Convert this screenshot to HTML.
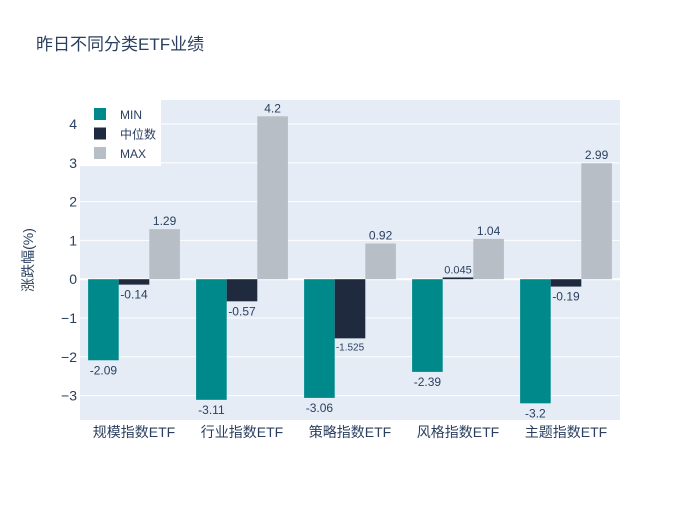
<!DOCTYPE html>
<html><head><meta charset="utf-8"><style>
body{margin:0;background:#fff;}
svg text{font-family:"Liberation Sans","Noto Sans CJK SC",sans-serif;fill:#2a3f5f;}
</style></head><body>
<svg id="c" width="700" height="500">
<rect x="0" y="0" width="700" height="500" fill="#fff"/>
<text x="36" y="50" font-size="17">昨日不同分类ETF业绩</text>
<rect x="80" y="100" width="540" height="320" fill="#e5ecf6"/>
<g id="grid"></g><g id="bars"></g><g id="axes"></g>
<text transform="translate(33,260) rotate(-90)" text-anchor="middle" font-size="14">涨跌幅(%)</text>
<g id="legend"></g>
</svg>
<script>
const categories=["规模指数ETF","行业指数ETF","策略指数ETF","风格指数ETF","主题指数ETF"];
const minVals=[-2.09,-3.11,-3.06,-2.39,-3.2];
const medVals=[-0.14,-0.57,-1.525,0.045,-0.19];
const maxVals=[1.29,4.2,0.92,1.04,2.99];
const minLabels=["-2.09","-3.11","-3.06","-2.39","-3.2"];
const medLabels=["-0.14","-0.57","-1.525","0.045","-0.19"];
const maxLabels=["1.29","4.2","0.92","1.04","2.99"];
const yTicks=[-3,-2,-1,0,1,2,3,4];
const seriesNames=["MIN","中位数","MAX"];
const colors=["#00898a","#1f2a3f","#b8bec6"];
const NS="http://www.w3.org/2000/svg";
const x0=80,x1=620,y0=100,y1=420,yMin=-3.63,yMax=4.62;
const yS=v=>y1-(v-yMin)/(yMax-yMin)*(y1-y0);
const band=(x1-x0)/categories.length;
const xC=i=>x0+band*(i+0.5);
function mk(t,a,p){const e=document.createElementNS(NS,t);for(const k in a)e.setAttribute(k,a[k]);p.appendChild(e);return e;}
const grid=document.getElementById('grid'),axes=document.getElementById('axes'),bars=document.getElementById('bars');
yTicks.forEach(v=>{
 const l=mk('line',{x1:x0,x2:x1,y1:yS(v),y2:yS(v),stroke:'#fff','stroke-width':v===0?2:1},grid);
 
 
 const t=mk('text',{x:x0-3,y:yS(v)+5,'text-anchor':'end','font-size':14},axes);
 t.textContent=v<0?'\u2212'+Math.abs(v):String(v);
 
 
});
categories.forEach((c,i)=>{
 const t=mk('text',{x:xC(i),y:437,'text-anchor':'middle','font-size':14},axes);
 t.textContent=c;
 
 
});
const series=[minVals,medVals,maxVals],labels=[minLabels,medLabels,maxLabels];
const bw=band*0.85/3;
series.forEach((vals,s)=>{
 vals.forEach((v,i)=>{
  const x=xC(i)-band*0.85/2+bw*s;
  const ya=yS(Math.max(v,0)),yb=yS(Math.min(v,0));
  const r=mk('rect',{x:x,y:ya,width:bw,height:Math.max(yb-ya,0.5),fill:colors[s]},bars);
  
  
  const small=labels[s][i]==='-1.525'||labels[s][i]==='0.045';
  const fs=small?(labels[s][i]==='-1.525'?10:11):12;
  const ty=v>=0?ya-4:(labels[s][i]==='-1.525'?yb+12:yb+14);
  const t=mk('text',{x:x+bw/2,y:ty,'text-anchor':'middle','font-size':fs},bars);
  t.textContent=labels[s][i];
  
  
 });
});
const lg=document.getElementById('legend');
const bg=mk('rect',{x:80,y:100,width:81,height:66,fill:'#fff'},lg);


seriesNames.forEach((n,s)=>{
 const y=114+s*19.5;
 const r=mk('rect',{x:94,y:y-6,width:12,height:12,fill:colors[s]},lg);
 
 
 const t=mk('text',{x:120,y:y+5,'font-size':12},lg);
 t.textContent=n;
 
 
});
</script>
</body></html>
